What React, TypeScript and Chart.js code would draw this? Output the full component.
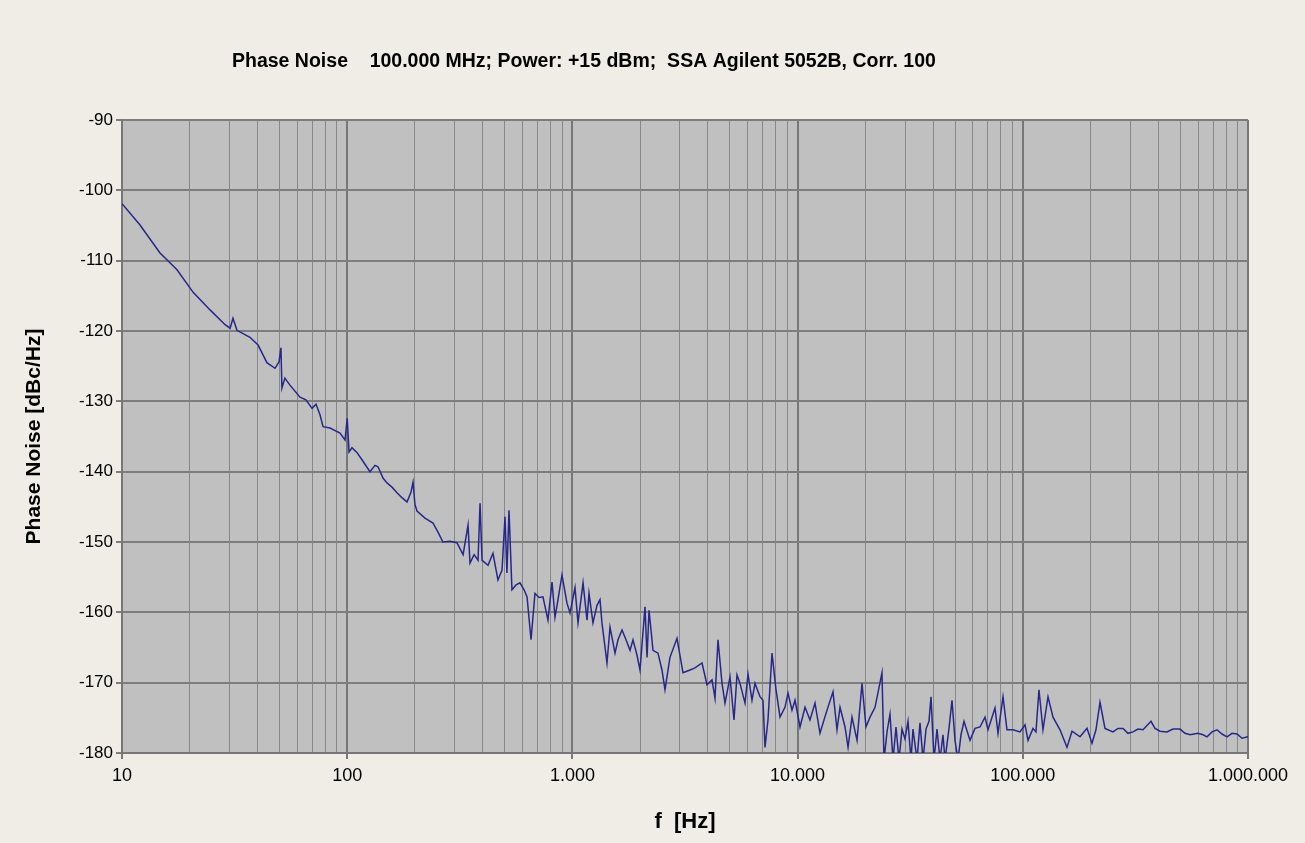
import React, { useEffect, useRef } from "react";
import { Chart, registerables } from "chart.js";

Chart.register(...registerables);

const CHART_TITLE = "Phase Noise    100.000 MHz; Power: +15 dBm;  SSA Agilent 5052B, Corr. 100";
const Y_TITLE = "Phase Noise [dBc/Hz]";
const X_TITLE = "f  [Hz]";

const xDecades = [10, 100, 1000, 10000, 100000, 1000000];
const xDecadeLabels = ["10", "100", "1.000", "10.000", "100.000", "1.000.000"];
const xMinorMultipliers = [2, 3, 4, 5, 6, 7, 8, 9];
const yTicks = [-90, -100, -110, -120, -130, -140, -150, -160, -170, -180];

const freqHz = [
  10, 12.0, 14.75, 17.55, 20.7, 24.6, 28.7, 30.2, 31.1, 32.4,
  37.0, 40.2, 44.0, 47.8, 49.8, 50.8, 51.3, 52.9, 55.7, 61.7,
  65.6, 69.8, 72.7, 75.7, 78.1, 83.9, 92.9, 97.8, 100, 101.9,
  105, 110.6, 116.3, 126.2, 132.9, 137, 144.2, 150.2, 158.1, 166.4,
  175.1, 184.3, 192, 196, 200, 204.2, 221.5, 240.4, 253, 266,
  286, 307, 327, 344, 351, 366, 381, 389, 397, 422,
  444, 467, 487, 502, 512, 523, 539, 562, 585, 610,
  629, 655, 682, 711, 740, 779, 812, 837, 863, 899,
  946, 976, 1027, 1059, 1115, 1161, 1185, 1234, 1286, 1326,
  1353, 1424, 1469, 1546, 1594, 1661, 1730, 1803, 1858, 1936,
  1996, 2101, 2145, 2189, 2280, 2399, 2499, 2577, 2712, 2914,
  3098, 3329, 3503, 3763, 3960, 4168, 4298, 4431, 4617, 4760,
  5010, 5219, 5381, 5549, 5840, 6023, 6273, 6469, 6808, 7020,
  7165, 7388, 7698, 8019, 8354, 8790, 9066, 9443, 9739, 10250,
  10790, 11350, 11950, 12570, 13510, 14360, 14960, 15430, 16240, 16750,
  17440, 18360, 19320, 20120, 20970, 22070, 23700, 24190, 24950, 25720,
  26520, 27350, 28200, 29080, 29980, 30920, 31880, 32540, 33900, 34960,
  36050, 37170, 38320, 39120, 40340, 41590, 42890, 44220, 45130, 47020,
  48490, 50000, 51560, 53160, 54820, 58280, 61340, 64550, 67930, 70060,
  75270, 77610, 81680, 85080, 90460, 97190, 102300, 105500, 111000, 114400,
  118000, 122900, 129400, 136200, 146300, 157100, 165400, 179500, 192800, 202900,
  211300, 220200, 231700, 251400, 264600, 278600, 293200, 308600, 324800, 341800,
  370900, 386400, 406700, 436800, 464500, 498900, 525100, 552700, 599800, 631300,
  657600, 692100, 728400, 766600, 806800, 849100, 893700, 940400, 1000000
];

const noiseDbc = [
  -101.9, -104.9, -108.9, -111.3, -114.5, -117.0, -119.1, -119.6, -118.2, -119.9,
  -120.9, -122.0, -124.5, -125.3, -124.4, -122.4, -128.1, -126.7, -127.7, -129.4,
  -129.8, -131.0, -130.4, -131.9, -133.6, -133.8, -134.5, -135.5, -132.4, -137.2,
  -136.6, -137.3, -138.3, -140.0, -139.1, -139.3, -140.9, -141.6, -142.2, -143.0,
  -143.7, -144.3, -142.9, -141.5, -144.7, -145.6, -146.6, -147.3, -148.6, -150.0,
  -149.9, -150.1, -151.8, -147.6, -153.0, -151.8, -152.6, -144.5, -152.6, -153.3,
  -151.6, -155.4, -154.0, -146.4, -154.4, -145.5, -156.8, -156.1, -155.8, -156.8,
  -157.8, -163.9, -157.3, -157.9, -157.8, -161.1, -155.7, -160.7, -158.2, -154.7,
  -158.7, -160.1, -156.5, -161.5, -155.8, -161.1, -157.3, -161.5, -159.0, -158.2,
  -161.5, -167.2, -162.1, -165.8, -163.9, -162.5, -163.9, -165.4, -163.9, -166.1,
  -168.2, -159.2, -166.4, -159.7, -165.4, -165.8, -168.2, -171.0, -166.4, -163.7,
  -168.6, -168.2, -167.9, -167.2, -170.3, -169.6, -172.2, -163.9, -170.1, -172.9,
  -169.2, -175.3, -168.9, -170.1, -172.9, -168.8, -172.5, -170.1, -172.0, -172.5,
  -179.2, -175.3, -165.8, -171.0, -174.9, -173.5, -171.5, -173.9, -172.5, -176.3,
  -173.5, -175.3, -172.9, -177.2, -173.9, -171.3, -176.7, -173.5, -176.3, -179.2,
  -174.9, -178.2, -170.1, -176.3, -174.9, -173.5, -168.6, -181.0, -177.0, -174.5,
  -181.0, -176.3, -181.0, -176.6, -178.0, -175.5, -181.0, -176.6, -181.0, -175.7,
  -181.0, -176.6, -175.5, -172.0, -181.0, -176.6, -181.0, -177.4, -181.0, -176.5,
  -172.5, -178.2, -181.0, -177.4, -175.5, -178.2, -176.5, -176.3, -174.9, -176.7,
  -173.6, -177.2, -172.0, -176.7, -176.7, -177.0, -176.0, -178.2, -176.5, -177.0,
  -171.0, -176.7, -172.0, -174.9, -176.7, -179.2, -176.9, -177.7, -176.5, -178.6,
  -176.7, -172.8, -176.5, -177.0, -176.5, -176.5, -177.2, -177.0, -176.6, -176.7,
  -175.5, -176.5, -176.9, -177.0, -176.6, -176.6, -177.2, -177.4, -177.2, -177.4,
  -177.7, -177.0, -176.7, -177.3, -177.7, -177.2, -177.3, -177.9, -177.7
];

const FONT = "'Liberation Sans', Arial, sans-serif";

const isDecade = (v: number) => xDecades.indexOf(v) >= 0;

export default function App() {
  const ref = useRef<HTMLCanvasElement | null>(null);

  useEffect(() => {
    if (!ref.current) return;
    const bgPlugin = {
      id: "bgPlugin",
      beforeDraw(chart: any) {
        const { ctx, chartArea: a, width, height } = chart;
        ctx.save();
        ctx.fillStyle = "#efede5";
        ctx.fillRect(0, 0, width, height);
        ctx.fillStyle = "#c0c0c0";
        ctx.fillRect(a.left, a.top, a.right - a.left, a.bottom - a.top);
        ctx.restore();
      },
      afterDraw(chart: any) {
        const { ctx } = chart;
        ctx.save();
        ctx.fillStyle = "#000";
        ctx.font = "bold 19.5px " + FONT;
        ctx.textAlign = "left";
        ctx.textBaseline = "alphabetic";
        ctx.fillText(CHART_TITLE, 232, 67);
        ctx.restore();
      },
    };

    const chart = new Chart(ref.current, {
      type: "line",
      data: {
        datasets: [
          {
            data: freqHz.map((f, i) => ({ x: f, y: noiseDbc[i] })),
            borderColor: "#27278a",
            borderWidth: 1.5,
            pointRadius: 0,
            tension: 0,
            fill: false,
          },
        ],
      },
      options: {
        animation: false,
        responsive: false,
        events: [],
        layout: { padding: { top: 120, right: 57, left: 0, bottom: 0 } },
        plugins: {
          legend: { display: false },
          tooltip: { enabled: false },
          title: { display: false },
        },
        scales: {
          x: {
            type: "logarithmic",
            min: 10,
            max: 1000000,
            afterBuildTicks: (scale: any) => {
              const t: any[] = [];
              xDecades.forEach((d, i) => {
                t.push({ value: d });
                if (i < xDecades.length - 1) xMinorMultipliers.forEach((m) => t.push({ value: d * m }));
              });
              scale.ticks = t;
            },
            afterFit: (scale: any) => {
              scale.height = 90;
            },
            ticks: {
              autoSkip: false,
              maxRotation: 0,
              minRotation: 0,
              padding: 6,
              color: "#000",
              font: { family: FONT, size: 18 },
              callback: (value: any) => {
                const i = xDecades.indexOf(Number(value));
                return i >= 0 ? xDecadeLabels[i] : "";
              },
            },
            grid: {
              color: (c: any) => (c.tick && isDecade(c.tick.value) ? "#777777" : "#888888"),
              lineWidth: (c: any) => (c.tick && isDecade(c.tick.value) ? 2 : 1),
              tickColor: (c: any) => (c.tick && isDecade(c.tick.value) ? "#777777" : "rgba(0,0,0,0)"),
              tickLength: 6,
            },
            border: { color: "#777777", width: 2 },
            title: {
              display: true,
              text: X_TITLE,
              color: "#000",
              font: { family: FONT, size: 22, weight: "bold" },
              padding: { top: 0, bottom: 8 },
            },
          },
          y: {
            type: "linear",
            min: -180,
            max: -90,
            afterBuildTicks: (scale: any) => {
              scale.ticks = yTicks.map((v) => ({ value: v }));
            },
            afterFit: (scale: any) => {
              scale.width = 122;
            },
            ticks: {
              padding: 3,
              color: "#000",
              font: { family: FONT, size: 17 },
            },
            grid: {
              color: "#7d7d7d",
              lineWidth: 2,
              tickColor: "#7d7d7d",
              tickLength: 6,
            },
            border: { color: "#777777", width: 2 },
            title: {
              display: true,
              text: Y_TITLE,
              color: "#000",
              font: { family: FONT, size: 21, weight: "bold" },
              padding: { top: 22, bottom: 0 },
            },
          },
        },
      } as any,
      plugins: [bgPlugin],
    } as any);

    return () => chart.destroy();
  }, []);

  return (
    <div style={{ position: "fixed", left: 0, top: 0, width: 1305, height: 843, background: "#efede5" }}>
      <canvas ref={ref} width={1305} height={843} style={{ display: "block", width: 1305, height: 843 }} />
    </div>
  );
}
